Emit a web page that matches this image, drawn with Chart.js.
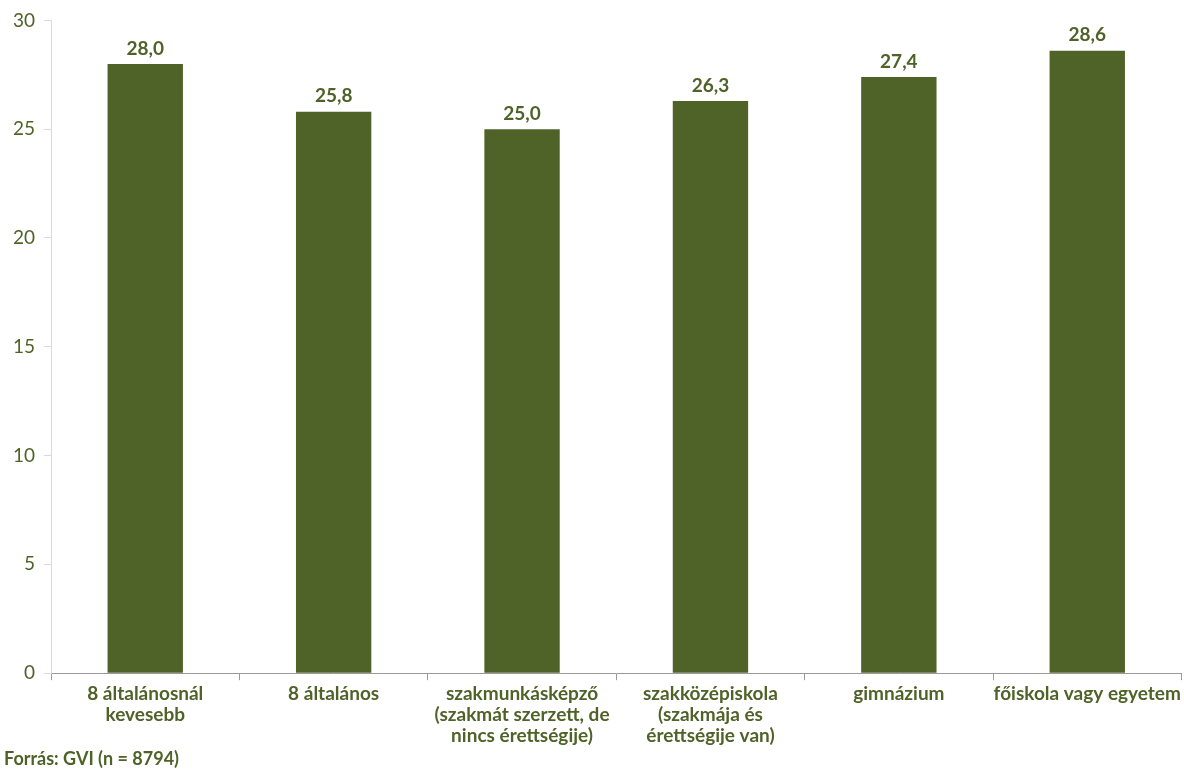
<!DOCTYPE html>
<html>
<head>
<meta charset="utf-8">
<script src="https://cdn.jsdelivr.net/npm/chart.js@4/dist/chart.umd.min.js"></script>
<style>
  html, body { margin: 0; padding: 0; background: #fff; }
  #wrap { position: relative; width: 1184px; height: 770px; }
</style>
</head>
<body>
<div id="wrap"><canvas id="eduChart" width="1184" height="770"></canvas></div>
<script>
// chart data
var categories = [
    ['8 általánosnál', 'kevesebb'],
    ['8 általános'],
    ['szakmunkásképző', '(szakmát szerzett, de', 'nincs érettségije)'],
    ['szakközépiskola', '(szakmája és', 'érettségije van)'],
    ['gimnázium'],
    ['főiskola vagy egyetem']
];
var values = [28.0, 25.8, 25.0, 26.3, 27.4, 28.6];
var yTicks = [0, 5, 10, 15, 20, 25, 30];
var sourceText = 'Forrás: GVI (n = 8794)';

var green = '#4F6228';
var fontFamily = 'Lato, "Open Sans", sans-serif';

// draws the value above each bar
var valueLabels = {
    id: 'valueLabels',
    afterDatasetsDraw: function(chart) {
        var ctx = chart.ctx;
        var meta = chart.getDatasetMeta(0);
        ctx.save();
        ctx.fillStyle = green;
        ctx.font = 'bold 19px ' + fontFamily;
        ctx.textAlign = 'center';
        ctx.textBaseline = 'bottom';
        meta.data.forEach(function(bar, i) {
            ctx.fillText(values[i].toFixed(1).replace('.', ','), bar.x, bar.y - 6);
        });
        ctx.restore();
    }
};

var ctx = document.getElementById('eduChart').getContext('2d');
new Chart(ctx, {
    type: 'bar',
    data: {
        labels: categories,
        datasets: [{
            data: values,
            backgroundColor: green,
            borderWidth: 0,
            barPercentage: 0.8,
            categoryPercentage: 0.5
        }]
    },
    options: {
        responsive: false,
        animation: false,
        layout: { padding: { left: 4, right: 1, top: 16, bottom: 0 } },
        plugins: {
            legend: { display: false },
            tooltip: { enabled: false },
            title: {
                display: true,
                text: sourceText,
                position: 'bottom',
                align: 'start',
                color: green,
                font: { family: fontFamily, size: 18, weight: 'bold', lineHeight: 1.0 },
                padding: { top: 0, bottom: 2 }
            }
        },
        scales: {
            x: {
                grid: {
                    display: true,
                    drawOnChartArea: false,
                    offset: true,
                    tickLength: 7,
                    color: '#9a9a9a'
                },
                border: { color: '#9a9a9a', width: 1 },
                ticks: {
                    color: green,
                    font: { family: fontFamily, size: 19, weight: 'bold', lineHeight: 1.12 },
                    maxRotation: 0,
                    autoSkip: false,
                    padding: 3
                }
            },
            y: {
                min: 0,
                max: 30,
                afterBuildTicks: function(axis) {
                    axis.ticks = yTicks.map(function(v) { return { value: v }; });
                },
                grid: {
                    display: true,
                    drawOnChartArea: false,
                    tickLength: 7,
                    color: '#d9d9d9'
                },
                border: { color: '#d9d9d9', width: 1 },
                ticks: {
                    color: green,
                    font: { family: fontFamily, size: 19 },
                    padding: 9
                }
            }
        }
    },
    plugins: [valueLabels]
});
</script>
</body>
</html>
